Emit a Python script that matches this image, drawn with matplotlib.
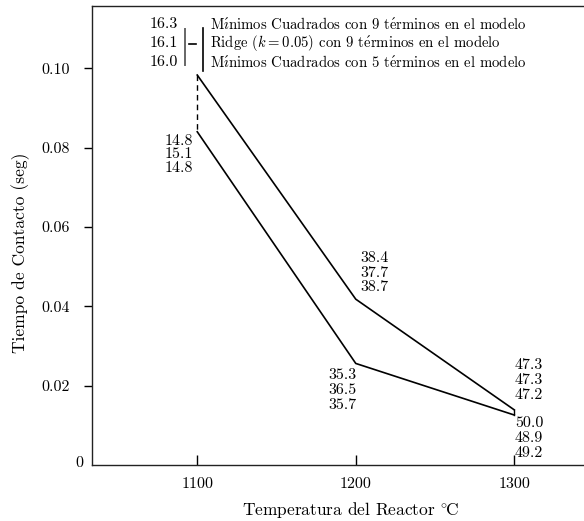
import matplotlib
matplotlib.use("Agg")
import matplotlib.pyplot as plt
from matplotlib.lines import Line2D

plt.rcParams['font.family'] = ['cmr10', 'DejaVu Serif']
plt.rcParams['mathtext.fontset'] = 'cm'
plt.rcParams['axes.formatter.use_mathtext'] = True

# ---- data ----
temps = [1100, 1200, 1300]
upper = [0.0983, 0.0418, 0.0139]
lower = [0.0840, 0.0256, 0.0126]
x_ticks = [1100, 1200, 1300]
y_ticks = [0.02, 0.04, 0.06, 0.08, 0.10]
y_tick_labels = ["0.02", "0.04", "0.06", "0.08", "0.10"]
legend_values = ["16.3", "16.1", "16.0"]
legend_labels = [r"M$\mathrm{\acute{\imath}}$nimos Cuadrados con 9 t$\mathrm{\acute{e}}$rminos en el modelo",
                 r"Ridge ($k = 0.05$) con 9 t$\mathrm{\acute{e}}$rminos en el modelo",
                 r"M$\mathrm{\acute{\imath}}$nimos Cuadrados con 5 t$\mathrm{\acute{e}}$rminos en el modelo"]
vals_1100 = ["14.8", "15.1", "14.8"]
vals_1200_up = ["38.4", "37.7", "38.7"]
vals_1200_low = ["35.3", "36.5", "35.7"]
vals_1300_up = ["47.3", "47.3", "47.2"]
vals_1300_low = ["50.0", "48.9", "49.2"]

W, H = 584, 521
fig = plt.figure(figsize=(W / 100, H / 100), dpi=100)
L, R, T, B = 92, 584, 6, 465
ax = fig.add_axes([L / W, 1 - B / H, (R - L) / W, (B - T) / H])
ax.set_xlim(1033.6, 1344)
ax.set_ylim(0, 0.1157)

lc = 'black'
ax.plot(temps, upper, color=lc, lw=1.2, solid_joinstyle='miter')
ax.plot(temps, lower, color=lc, lw=1.2, solid_joinstyle='miter')
ax.plot([temps[0], temps[0]], [upper[0], lower[0]], color=lc, lw=1.0, ls=(0, (4, 3)))
ax.plot([temps[2], temps[2]], [upper[2], lower[2]], color=lc, lw=1.0)

ax.spines['right'].set_visible(False)
for s in ['left', 'bottom', 'top']:
    ax.spines[s].set_linewidth(1.0)
    ax.spines[s].set_color('#222222')

ax.set_xticks(x_ticks)
ax.set_xticklabels([str(t) for t in x_ticks])
ax.tick_params(axis='x', direction='in', length=7, width=1.0, pad=9, labelsize=11.5)
ax.set_yticks(y_ticks)
ax.set_yticklabels(y_tick_labels)
ax.tick_params(axis='y', direction='out', length=6, width=1.0, pad=10, labelsize=11.5)

fs = 11.5

def ftext(px, py, s, ha, size=fs):
    fig.text(px / W, 1 - py / H, s, ha=ha, va='center', fontsize=size)

ftext(83, 463, "0", 'right')

# legend
for v, lab, py in zip(legend_values, legend_labels, [24, 43, 62]):
    ftext(178, py, v, 'right')
    ftext(210, py, lab, 'left', size=10.6)
fig.add_artist(Line2D([185 / W, 185 / W], [1 - 29 / H, 1 - 65 / H], color='#666666', lw=1.4))
fig.add_artist(Line2D([189 / W, 196 / W], [1 - 44 / H, 1 - 44 / H], color='black', lw=1.2))
fig.add_artist(Line2D([203 / W, 203 / W], [1 - 28 / H, 1 - 71 / H], color='black', lw=1.2))

for v, py in zip(vals_1100, [141, 154, 168]):
    ftext(193, py, v, 'right')
for v, py in zip(vals_1200_up, [258, 273, 287]):
    ftext(360, py, v, 'left')
for v, py in zip(vals_1200_low, [375, 390, 405]):
    ftext(357, py, v, 'right')
for v, py in zip(vals_1300_up, [365, 380, 395]):
    ftext(515, py, v, 'left')
for v, py in zip(vals_1300_low, [423, 438, 453]):
    ftext(515, py, v, 'left')

fig.text(350 / W, 1 - 510 / H, r"Temperatura del Reactor $^{\circ}\!$C", ha='center', va='center', fontsize=12.5)
fig.text(21 / W, 1 - 253 / H, "Tiempo de Contacto (seg)", ha='center', va='center',
         rotation=90, fontsize=12.6)

fig.savefig("out.png", dpi=100)
